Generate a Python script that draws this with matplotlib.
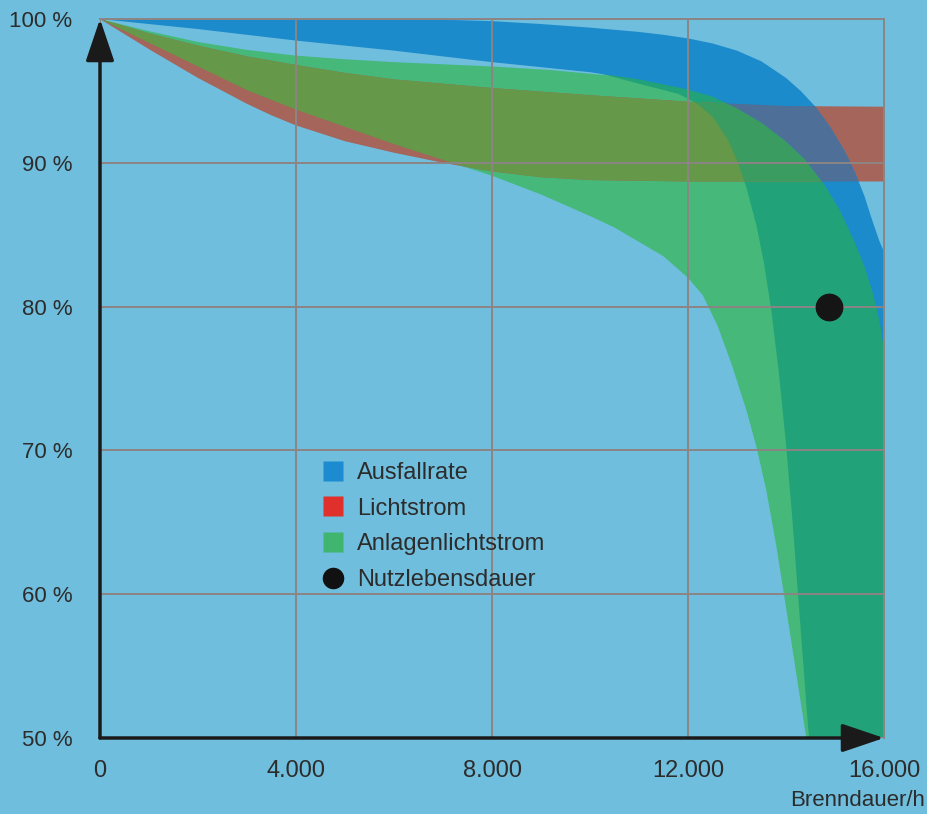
import numpy as np
import matplotlib
matplotlib.use("Agg")
import matplotlib.pyplot as plt
from matplotlib.lines import Line2D

plt.rcParams['font.family'] = ['Liberation Sans', 'DejaVu Sans']

# ---------------- data ----------------
x_ticks = [0, 4000, 8000, 12000, 16000]
x_tick_labels = ['0', '4.000', '8.000', '12.000', '16.000']
y_ticks = [50, 60, 70, 80, 90, 100]
y_tick_labels = ['50 %', '60 %', '70 %', '80 %', '90 %', '100 %']
x_label = 'Brenndauer/h'

# Ausfallrate (blue band)
ausfall_upper_x = [0, 2000, 4000, 6000, 7000, 8000, 9000, 10000, 11000, 11500, 12000,
                   12500, 13000, 13500, 14000, 14300, 14600, 14900, 15200, 15400,
                   15600, 15750, 15900, 16000]
ausfall_upper_y = [100, 100, 100, 99.98, 99.95, 99.85, 99.65, 99.4, 99.1, 98.9, 98.65,
                   98.3, 97.8, 97.05, 95.9, 95.0, 93.9, 92.5, 90.8, 89.4,
                   87.7, 86.1, 84.6, 83.8]
ausfall_lower_x = [0, 2000, 4000, 6000, 8000, 10000, 11000, 12000, 12500, 13000, 13500,
                   14000, 14400, 14800, 15100, 15400, 15600, 15750, 15850, 15930, 16000]
ausfall_lower_y = [100, 99.3, 98.5, 97.8, 97.0, 96.3, 95.8, 95.1, 94.6, 93.8, 92.8,
                   91.5, 90.2, 88.4, 86.7, 84.5, 82.8, 81.2, 79.9, 78.6, 77.0]

# Lichtstrom (red band)
licht_upper_x = [0, 1000, 2000, 3000, 4000, 5000, 6000, 8000, 10000, 12000, 14000, 16000]
licht_upper_y = [100, 99.0, 98.15, 97.4, 96.8, 96.25, 95.8, 95.2, 94.7, 94.25, 93.95, 93.9]
licht_lower_x = [0, 1000, 2000, 2500, 3000, 3500, 4000, 5000, 6000, 7000, 8000, 9000,
                 10000, 12000, 16000]
licht_lower_y = [100, 97.9, 95.9, 95.0, 94.1, 93.3, 92.6, 91.5, 90.7, 90.0, 89.4, 89.0,
                 88.8, 88.7, 88.7]

# Anlagenlichtstrom (green band, light part)
anlage_upper_x = [0, 1000, 2000, 3000, 4000, 5000, 6000, 8000, 9200, 10600, 11500, 12300,
                  13000, 13500, 14000, 14400, 14800, 15100, 15400, 15600, 15750, 15850, 16000]
anlage_upper_y = [100, 99.15, 98.4, 97.85, 97.45, 97.2, 97.0, 96.7, 96.45, 96.0, 95.6, 95.1,
                  94.1, 93.1, 91.8, 90.5, 88.8, 87.1, 84.9, 83.2, 81.6, 80.3, 77.8]
anlage_lower_x = [0, 1000, 2000, 3000, 4000, 5000, 6000, 7000, 8000, 9000, 10000, 10500,
                  11000, 11500, 12000, 12300, 12600, 12900, 13200, 13400, 13600, 13800,
                  14000, 14200, 14400, 14550, 16000]
anlage_lower_y = [100, 98.35, 96.7, 95.05, 93.7, 92.5, 91.3, 90.2, 89.1, 87.8, 86.3, 85.5,
                  84.5, 83.5, 82.0, 80.8, 78.7, 75.9, 72.7, 70.2, 67.2, 63.4,
                  59.1, 54.7, 50.3, 47.0, 47.0]

# Anlagenlichtstrom (green band, dark part)
anlage2_upper_x = [10000, 11000, 12000, 12500, 13000, 13500, 14000, 14400, 14800, 15100,
                   15400, 15600, 15750, 15850, 16000]
anlage2_upper_y = [96.6, 96.05, 95.45, 94.9, 94.1, 93.1, 91.8, 90.5, 88.8, 87.1,
                   84.9, 83.2, 81.6, 80.3, 77.8]
anlage2_lower_x = [10000, 11000, 11800, 12200, 12500, 12800, 13000, 13200, 13400, 13550,
                   13700, 13850, 14000, 14120, 14230, 14340, 14450, 14600, 16000]
anlage2_lower_y = [96.4, 95.5, 94.8, 94.1, 93.2, 91.7, 90.2, 88.2, 85.6, 83.05,
                   79.75, 75.55, 70.45, 65.65, 60.7, 55.75, 50.8, 46.0, 46.0]

# Nutzlebensdauer
nutz_x = [14880]
nutz_y = [80]

legend_labels = ['Ausfallrate', 'Lichtstrom', 'Anlagenlichtstrom', 'Nutzlebensdauer']

# ---------------- style ----------------
bg = '#6fbedd'
c_blue = '#1b8bcb'
c_red = '#a5655b'
c_green = '#45b87a'
c_green_dark = '#22a279'
c_olive = '#659848'
c_red_green2 = '#3a9c60'
c_slate = '#4e6f97'
c_grid = '#8c8484'
c_text = '#2c2c2c'

fig = plt.figure(figsize=(9.27, 8.14), dpi=100)
fig.patch.set_facecolor(bg)
ax = fig.add_axes([100 / 927, 76 / 814, 784 / 927, 719 / 814])
ax.set_facecolor(bg)
ax.set_xlim(0, 16000)
ax.set_ylim(50, 100)


def band(xu, yu, xl, yl, color, z):
    xs = np.concatenate([np.asarray(xu, float), np.asarray(xl, float)[::-1]])
    ys = np.concatenate([np.asarray(yu, float), np.asarray(yl, float)[::-1]])
    return ax.fill(xs, ys, color=color, lw=0, zorder=z)[0]


g1 = band(anlage_upper_x, anlage_upper_y, anlage_lower_x, anlage_lower_y, c_green, 1.0)
g2 = band(anlage2_upper_x, anlage2_upper_y, anlage2_lower_x, anlage2_lower_y, c_green_dark, 1.1)
band(licht_upper_x, licht_upper_y, licht_lower_x, licht_lower_y, c_red, 1.2)
ol = band(licht_upper_x, licht_upper_y, licht_lower_x, licht_lower_y, c_olive, 1.3)
ol.set_clip_path(g1)
og = band(licht_upper_x, licht_upper_y, licht_lower_x, licht_lower_y, c_red_green2, 1.4)
og.set_clip_path(g2)
bl = band(ausfall_upper_x, ausfall_upper_y, ausfall_lower_x, ausfall_lower_y, c_blue, 1.5)
sl = band(licht_upper_x, licht_upper_y, licht_lower_x, licht_lower_y, c_slate, 1.6)
sl.set_clip_path(bl)

ax.plot(nutz_x, nutz_y, 'o', ms=19, color='#151515', zorder=5)

# grid & spines
ax.set_axisbelow(False)
ax.grid(True, color=c_grid, lw=1.4)
for s in ['left', 'bottom']:
    ax.spines[s].set_visible(False)
for s in ['top', 'right']:
    ax.spines[s].set_color(c_grid)
    ax.spines[s].set_linewidth(1.4)

ax.set_xticks(x_ticks, x_tick_labels)
ax.set_yticks(y_ticks, y_tick_labels)
ax.tick_params(axis='x', length=0, pad=16, labelsize=17, labelcolor=c_text)
ax.tick_params(axis='y', length=0, pad=20, labelsize=16, labelcolor=c_text)

fig.text(925 / 927, 1 - 800 / 814, x_label, ha='right', va='center',
         fontsize=16, color=c_text)

# axis arrows
arrow_kw = dict(arrowstyle='-|>,head_length=0.65,head_width=0.22', lw=2.5,
                color='#1a1a1a', mutation_scale=40, shrinkA=0, shrinkB=0)
ax.annotate('', xy=(0, 1), xytext=(0, 0), xycoords='axes fraction',
            arrowprops=arrow_kw, annotation_clip=False, zorder=6)
ax.annotate('', xy=(1, 0), xytext=(0, 0), xycoords='axes fraction',
            arrowprops=arrow_kw, annotation_clip=False, zorder=6)

# legend
handles = [
    Line2D([], [], marker='s', ls='none', ms=14.5, mfc='#1d8bd0', mec='none', label=legend_labels[0]),
    Line2D([], [], marker='s', ls='none', ms=14.5, mfc='#e0302b', mec='none', label=legend_labels[1]),
    Line2D([], [], marker='s', ls='none', ms=14.5, mfc='#3fb56f', mec='none', label=legend_labels[2]),
    Line2D([], [], marker='o', ls='none', ms=15.5, mfc='#111111', mec='none', label=legend_labels[3]),
]
ax.legend(handles=handles, loc='upper left', bbox_to_anchor=(321 / 927, 1 - 462 / 814),
          bbox_transform=fig.transFigure, frameon=False, fontsize=17,
          handlelength=1.0, handletextpad=0.52, labelspacing=0.58,
          borderpad=0, borderaxespad=0, labelcolor=c_text)

fig.savefig('out.png', dpi=100, facecolor=bg)
